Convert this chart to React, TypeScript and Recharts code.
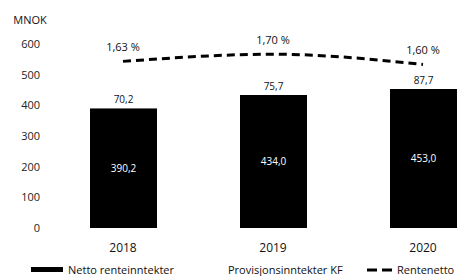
import { ComposedChart, Bar, Line, XAxis, YAxis, Legend, LabelList } from 'recharts'

const years = ['2018', '2019', '2020']
const nettoRente = [390.2, 434.0, 453.0]
const provisjon = [70.2, 75.7, 87.7]
const rentenetto = [1.63, 1.7, 1.6]
const yTicks = [0, 100, 200, 300, 400, 500, 600]

const data = years.map((year, i) => ({
    year,
    netto: nettoRente[i],
    prov: provisjon[i],
    rente: rentenetto[i],
}))

const font = '"Open Sans", sans-serif'
const nok = (v: any) => Number(v).toFixed(1).replace('.', ',')
const pct = (v: any) => Number(v).toFixed(2).replace('.', ',') + ' %'

const legendLeft: Record<string, number> = { netto: 31, prov: 195, rente: 367 }

const LegendContent = ({ payload }: any) => (
    <div style={{ position: 'relative', height: 20, fontFamily: font, fontSize: 11, color: '#111' }}>
        {(payload || []).map((p: any) => {
            const key = p.dataKey
            let marker
            if (key === 'rente') {
                marker = <svg width={27} height={6} style={{ marginRight: 3 }}>
                    <line x1={0} y1={3} x2={27} y2={3} stroke='#000' strokeWidth={3} strokeDasharray='10 5' />
                </svg>
            } else {
                marker = <div style={{ width: key === 'netto' ? 32 : 28, height: 5, background: p.color, marginRight: 5 }} />
            }
            return (
                <div key={key} style={{ position: 'absolute', left: legendLeft[key], top: 6, display: 'flex', alignItems: 'center', whiteSpace: 'nowrap' }}>
                    {marker}
                    <span>{p.value}</span>
                </div>
            )
        })}
    </div>
)

const App = () => {
    return (
        <div style={{ position: 'absolute', left: 0, top: 0, width: 464, height: 276, overflow: 'hidden', background: '#fff' }}>
            <ComposedChart width={510} height={276} data={data} margin={{ top: 44, right: 12, left: 0, bottom: 0 }}>
                <XAxis dataKey='year' axisLine={false} tickLine={false} height={28} tickMargin={9}
                    tick={{ fontSize: 12, fill: '#111', fontFamily: font }} />
                <YAxis yAxisId='left' width={48} domain={[0, 600]} ticks={yTicks} axisLine={false} tickLine={false}
                    tick={{ fontSize: 11, fill: '#222', fontFamily: font }}
                    label={{ value: 'MNOK', position: 'top', offset: 20, dx: 6, fontSize: 11, fill: '#111', fontFamily: font }} />
                <YAxis yAxisId='right' orientation='right' hide domain={[0, 1.8]} />
                <Legend verticalAlign='bottom' height={20} content={<LegendContent />} wrapperStyle={{ left: 0, width: 464 }} />
                <Bar yAxisId='left' dataKey='netto' name='Netto renteinntekter' stackId='a' fill='#000' barSize={67} isAnimationActive={false}>
                    <LabelList dataKey='netto' position='center' fill='#fff' fontSize={10} fontFamily={font} formatter={nok} />
                </Bar>
                <Bar yAxisId='left' dataKey='prov' name='Provisjonsinntekter KF' stackId='a' fill='#fff' barSize={67} isAnimationActive={false}>
                    <LabelList dataKey='prov' position='insideBottom' offset={5} fill='#111' fontSize={10} fontFamily={font} formatter={nok} />
                </Bar>
                <Line yAxisId='right' type='monotone' dataKey='rente' name='Rentenetto' stroke='#000' strokeWidth={3}
                    strokeDasharray='8 5' dot={false} activeDot={false} isAnimationActive={false}>
                    <LabelList dataKey='rente' position='top' offset={10} fill='#111' fontSize={11} fontFamily={font} formatter={pct} />
                </Line>
            </ComposedChart>
        </div>
    )
}

export default App
